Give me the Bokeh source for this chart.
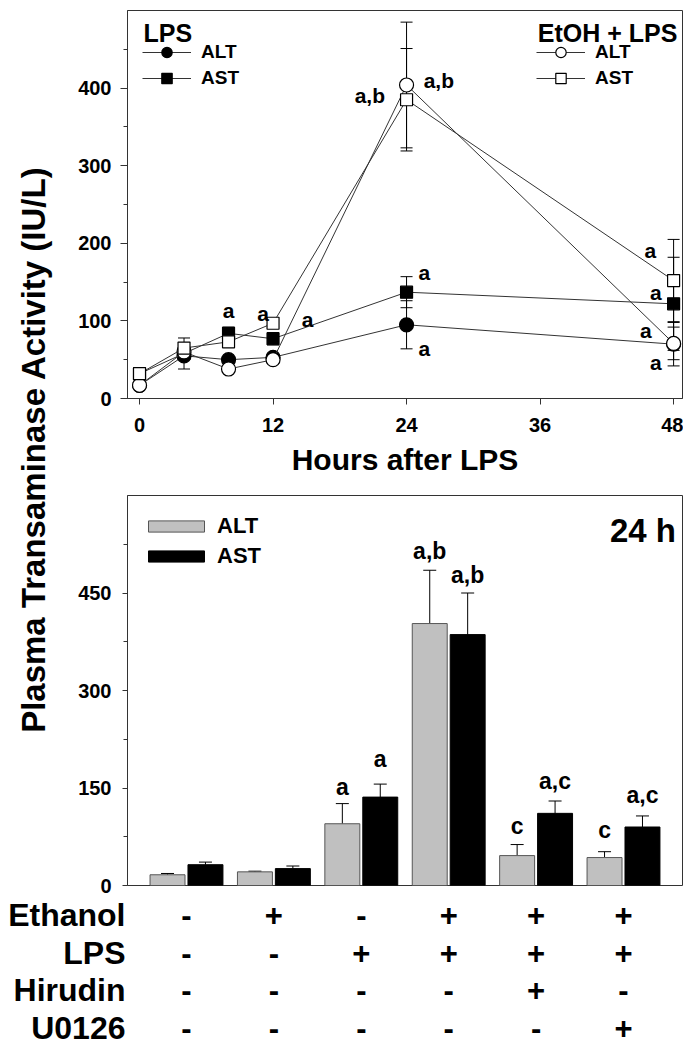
import math

from bokeh.plotting import figure
from bokeh.models import (Range1d, FactorRange, FixedTicker, ColumnDataSource, Whisker,
                          TeeHead, Legend, LegendItem, Label)
from bokeh.layouts import column, row
from bokeh.core.properties import value
from bokeh.embed import file_html
from bokeh.resources import INLINE

FONT = "Liberation Sans"

# --- top panel: time course (IU/L) ---
hours = [0, 4, 8, 12, 24, 48]
lps_alt = [17, 55, 50, 53, 95, 70]
lps_alt_err = [3, 17, 4, 4, 31, 28]
lps_ast = [32, 58, 84, 77, 137, 122]
lps_ast_err = [4, 8, 8, 8, 20, 60]
etoh_alt = [17, 60, 38, 50, 404, 71]
etoh_alt_err = [3, 8, 4, 5, 81, 21]
etoh_ast = [32, 65, 73, 97, 385, 152]
etoh_ast_err = [4, 13, 5, 4, 66, 53]

# significance letters of the top panel (hour, IU/L)
top_note = ["a", "a", "a", "a", "a", "a,b", "a,b", "a", "a", "a", "a"]
top_note_x = [8, 11.1, 15.1, 25.6, 25.6, 20.7, 26.9, 45.9, 46.4, 45.5, 46.4]
top_note_y = [113, 109, 102, 162, 64, 390, 410, 191, 137, 88, 47]

# --- bottom panel: 24 h bars ---
groups = [0, 1, 2, 3, 4, 5]
alt_24 = [16.5, 21, 95, 403, 46, 43]
alt_24_err = [2, 1, 31, 82, 17, 9]
ast_24 = [32, 26, 136, 386, 111, 90]
ast_24_err = [4, 4, 20, 64, 19, 17]

alt_note_groups = [2, 3, 4, 5]
alt_note = ["a", "a,b", "c", "c"]
alt_note_y = [151, 514, 92, 85]
ast_note_groups = [2, 3, 4, 5]
ast_note = ["a", "a,b", "a,c", "a,c"]
ast_note_y = [194, 478, 161, 140]

# treatment table under the bars
treatments = ["Ethanol", "LPS", "Hirudin", "U0126"]
ethanol = ["-", "+", "-", "+", "+", "+"]
lps = ["-", "-", "+", "+", "+", "+"]
hirudin = ["-", "-", "-", "-", "+", "-"]
u0126 = ["-", "-", "-", "-", "-", "+"]

DARK = "#333333"


def style_axes(p):
    p.outline_line_color = DARK
    p.outline_line_width = 1
    p.grid.visible = False
    for ax in p.axis:
        ax.axis_line_color = DARK
        ax.major_tick_line_color = DARK
        ax.minor_tick_line_color = DARK
        ax.major_tick_in = 0
        ax.minor_tick_in = 0
        ax.major_tick_out = 7
        ax.minor_tick_out = 4
        ax.major_label_text_font = FONT
        ax.major_label_text_font_style = "bold"
        ax.major_label_text_font_size = "20px"
        ax.major_label_text_color = "black"
        ax.axis_label_text_font = FONT
        ax.axis_label_text_font_style = "bold"
        ax.axis_label_text_color = "black"


def style_legend(leg, label_size):
    leg.border_line_color = None
    leg.background_fill_alpha = 0
    leg.label_text_font = FONT
    leg.label_text_font_style = "bold"
    leg.label_text_font_size = label_size
    leg.label_text_color = "black"


# ---------- top panel ----------
top = figure(width=617, height=488, x_range=Range1d(-1.08, 48.8), y_range=Range1d(0, 500),
             toolbar_location=None, output_backend="svg",
             min_border_left=61, min_border_right=1, min_border_top=10, min_border_bottom=90)
style_axes(top)
top.xaxis.ticker = FixedTicker(ticks=[0, 12, 24, 36, 48], minor_ticks=[])
top.yaxis.ticker = FixedTicker(ticks=[0, 100, 200, 300, 400], minor_ticks=[50, 150, 250, 350, 450])
top.yaxis.major_label_standoff = 9
top.xaxis.major_tick_out = 6
top.xaxis.major_label_standoff = 13
top.xaxis.axis_label = "Hours after LPS"
top.xaxis.axis_label_text_font_size = "30px"
top.xaxis.axis_label_standoff = 8

series = [
    (lps_alt, lps_alt_err, "circle", "black", 14),
    (lps_ast, lps_ast_err, "square", "black", 12),
    (etoh_alt, etoh_alt_err, "circle", "white", 14),
    (etoh_ast, etoh_ast_err, "square", "white", 12),
]
renderers = []
for vals, errs, marker, fill, size in series:
    src = ColumnDataSource(dict(
        x=hours, y=vals,
        lo=[v - e for v, e in zip(vals, errs)],
        hi=[v + e for v, e in zip(vals, errs)],
    ))
    top.add_layout(Whisker(source=src, base="x", upper="hi", lower="lo", line_color="black",
                           line_width=1,
                           upper_head=TeeHead(size=12, line_color="black", line_width=1),
                           lower_head=TeeHead(size=12, line_color="black", line_width=1)))
    ln = top.line("x", "y", source=src, line_color=DARK, line_width=1)
    sc = top.scatter("x", "y", source=src, marker=marker, size=size, fill_color=fill,
                     line_color="black", line_width=1.2)
    renderers.append((ln, sc))

top.text(x=top_note_x, y=top_note_y, text=top_note, text_font=value(FONT),
         text_font_style="bold", text_font_size="21px", text_align="center",
         text_baseline="middle", text_color="black")

# two small legends, each with a heading above it (positions in px from frame bottom-left)
legend_opts = dict(padding=0, glyph_width=49, glyph_height=26, label_height=18,
                   spacing=0, label_standoff=10)
leg_lps = Legend(items=[LegendItem(label="ALT", renderers=list(renderers[0])),
                        LegendItem(label="AST", renderers=list(renderers[1]))],
                 location=(15, 307), **legend_opts)
style_legend(leg_lps, "19px")
top.add_layout(leg_lps)

leg_etoh = Legend(items=[LegendItem(label="ALT", renderers=list(renderers[2])),
                         LegendItem(label="AST", renderers=list(renderers[3]))],
                  location=(409, 307), **legend_opts)
style_legend(leg_etoh, "19px")
top.add_layout(leg_etoh)

for txt, hx in [("LPS", 0.36), ("EtOH + LPS", 35.8)]:
    top.add_layout(Label(x=hx, y=471, text=txt,
                         text_font=FONT, text_font_style="bold", text_font_size="25px",
                         text_align="left", text_baseline="middle", text_color="black"))

# ---------- bottom panel ----------
bot = figure(width=617, height=408, x_range=Range1d(-0.675, 5.675), y_range=Range1d(0, 600),
             toolbar_location=None, output_backend="svg",
             min_border_left=61, min_border_right=1, min_border_top=7, min_border_bottom=11)
style_axes(bot)
bot.xaxis.visible = False
bot.yaxis.ticker = FixedTicker(ticks=[0, 150, 300, 450], minor_ticks=[75, 225, 375, 525])
bot.yaxis.major_tick_out = 5
bot.yaxis.major_label_standoff = 11

alt_src = ColumnDataSource(dict(x=[g - 0.217 for g in groups], top=alt_24,
                                hi=[v + e for v, e in zip(alt_24, alt_24_err)]))
ast_src = ColumnDataSource(dict(x=[g + 0.217 for g in groups], top=ast_24,
                                hi=[v + e for v, e in zip(ast_24, ast_24_err)]))
for src in (alt_src, ast_src):
    bot.add_layout(Whisker(source=src, base="x", upper="hi", lower="top", line_color="black",
                           line_width=1, lower_head=None,
                           upper_head=TeeHead(size=13, line_color="black", line_width=1)))
b_alt = bot.vbar(x="x", top="top", width=0.4, source=alt_src, fill_color="#c0c0c0",
                 line_color="#555555", line_width=1)
b_ast = bot.vbar(x="x", top="top", width=0.4, source=ast_src, fill_color="black",
                 line_color="black", line_width=1)

bot.text(x=[g - 0.217 for g in alt_note_groups], y=alt_note_y, text=alt_note,
         text_font=value(FONT), text_font_style="bold", text_font_size="23px",
         text_align="center", text_baseline="middle", text_color="black")
bot.text(x=[g + 0.217 for g in ast_note_groups], y=ast_note_y, text=ast_note,
         text_font=value(FONT), text_font_style="bold", text_font_size="23px",
         text_align="center", text_baseline="middle", text_color="black")

bot.add_layout(Label(x=5.6, y=546, text="24 h", text_font=FONT, text_font_style="bold",
                     text_font_size="33px", text_align="right", text_baseline="middle",
                     text_color="black"))

leg_bar = Legend(items=[LegendItem(label="ALT", renderers=[b_alt]),
                        LegendItem(label="AST", renderers=[b_ast])],
                 location=(14, 316), padding=0,
                 glyph_width=70, glyph_height=14, label_height=26, spacing=4,
                 label_standoff=6)
style_legend(leg_bar, "22px")
bot.add_layout(leg_bar)

# ---------- treatment table ----------
tab = figure(width=683, height=154, x_range=Range1d(-0.675, 5.675),
             y_range=FactorRange(*reversed(treatments)),
             toolbar_location=None, output_backend="svg",
             min_border_left=127, min_border_right=1, min_border_top=0, min_border_bottom=4)
tab.outline_line_color = None
tab.grid.visible = False
tab.xaxis.visible = False
tab.y_range.range_padding = 0
tab.yaxis.axis_line_color = None
tab.yaxis.major_tick_line_color = None
tab.yaxis.minor_tick_line_color = None
tab.yaxis.major_tick_out = 0
tab.yaxis.major_label_standoff = 2
tab.yaxis.major_label_text_font = FONT
tab.yaxis.major_label_text_font_style = "bold"
tab.yaxis.major_label_text_font_size = "32px"
tab.yaxis.major_label_text_color = "black"

for name, signs in zip(treatments, [ethanol, lps, hirudin, u0126]):
    tab.text(x=groups, y=[name] * len(groups), text=signs, text_font=value(FONT),
             text_font_style="bold", text_font_size="31px", text_align="center",
             text_baseline="middle", text_color="black")

# ---------- shared y-axis title ----------
ttl = figure(width=66, height=896, x_range=Range1d(0, 1), y_range=Range1d(0, 1),
             toolbar_location=None, output_backend="svg", min_border=0)
ttl.outline_line_color = None
ttl.axis.visible = False
ttl.grid.visible = False
ttl.add_layout(Label(x=33, y=447, x_units="screen", y_units="screen",
                     text="Plasma Transaminase Activity (IU/L)", angle=math.pi / 2,
                     text_font=FONT, text_font_style="bold", text_font_size="33px",
                     text_align="center", text_baseline="middle", text_color="black"))

layout = column(row(ttl, column(top, bot)), tab)
open("out.html", "w").write(file_html(layout, INLINE))
